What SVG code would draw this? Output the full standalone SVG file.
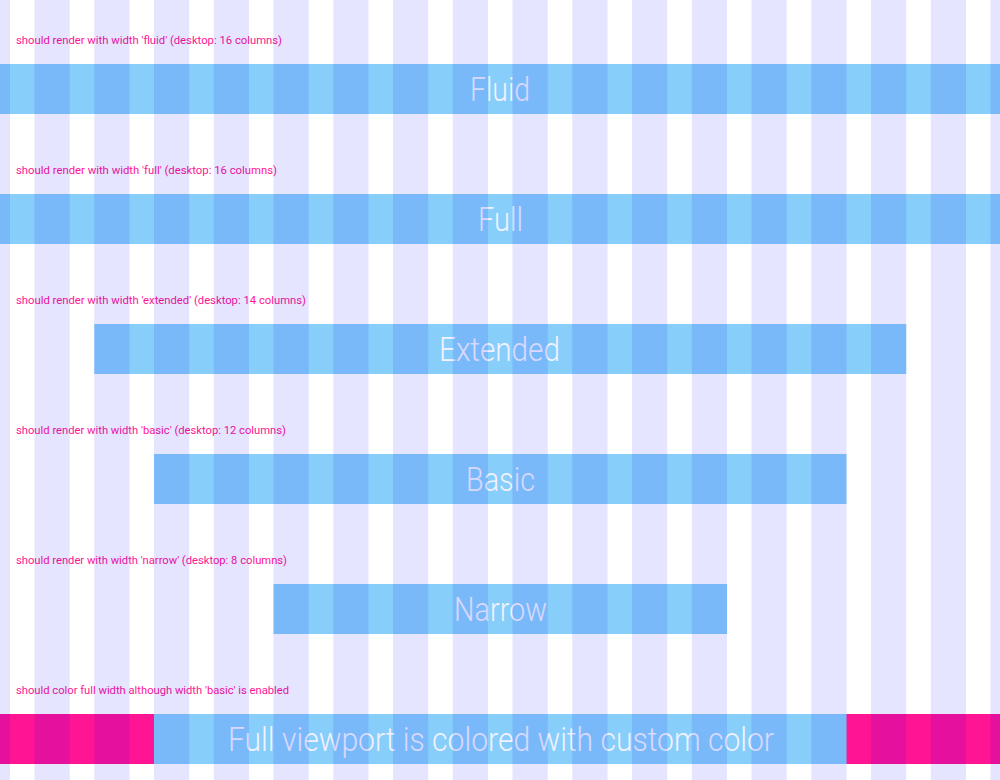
<svg xmlns="http://www.w3.org/2000/svg" width="1000" height="780" viewBox="0 0 1000 780">
<style>
.band{fill:#87CEFA}
.pink{fill:#FF1493}
.col{fill:#0000FF;fill-opacity:0.1}
.lbl{font-family:Roboto,"Liberation Sans",sans-serif;font-size:11px;fill:#FF1493}
.big{font-family:Roboto,"Liberation Sans",sans-serif;font-weight:300;font-size:34px;fill:#F2F2FF}
</style>
<rect width="1000" height="780" fill="#FFFFFF"/>
<g id="fluid">
<text class="lbl" x="16" y="44" textLength="266" lengthAdjust="spacingAndGlyphs">should render with width 'fluid' (desktop: 16 columns)</text>
<rect class="band" x="0" y="64" width="1000" height="50"/>
<text class="big" x="470" y="101" textLength="60" lengthAdjust="spacingAndGlyphs">Fluid</text>
</g>
<g id="full">
<text class="lbl" x="16" y="174" textLength="261" lengthAdjust="spacingAndGlyphs">should render with width 'full' (desktop: 16 columns)</text>
<rect class="band" x="0" y="194" width="1000" height="50"/>
<text class="big" x="478" y="231" textLength="45" lengthAdjust="spacingAndGlyphs">Full</text>
</g>
<g id="extended">
<text class="lbl" x="16" y="304" textLength="290" lengthAdjust="spacingAndGlyphs">should render with width 'extended' (desktop: 14 columns)</text>
<rect class="band" x="94.25" y="324" width="812" height="50"/>
<text class="big" x="439" y="361" textLength="121" lengthAdjust="spacingAndGlyphs">Extended</text>
</g>
<g id="basic">
<text class="lbl" x="16" y="434" textLength="270" lengthAdjust="spacingAndGlyphs">should render with width 'basic' (desktop: 12 columns)</text>
<rect class="band" x="154" y="454" width="692.5" height="50"/>
<text class="big" x="466" y="491" textLength="69" lengthAdjust="spacingAndGlyphs">Basic</text>
</g>
<g id="narrow">
<text class="lbl" x="16" y="564" textLength="271" lengthAdjust="spacingAndGlyphs">should render with width 'narrow' (desktop: 8 columns)</text>
<rect class="band" x="273.5" y="584" width="453.5" height="50"/>
<text class="big" x="454" y="621" textLength="93" lengthAdjust="spacingAndGlyphs">Narrow</text>
</g>
<g id="custom-color">
<text class="lbl" x="16" y="694" textLength="273" lengthAdjust="spacingAndGlyphs">should color full width although width 'basic' is enabled</text>
<rect class="pink" x="0" y="714" width="1000" height="50"/>
<rect class="band" x="154" y="714" width="692.5" height="50"/>
<text class="big" x="228" y="751" textLength="546" lengthAdjust="spacingAndGlyphs">Full viewport is colored with custom color</text>
</g>
<g id="grid-columns">
<rect class="col" x="0" y="0" width="10" height="780"/>
<rect class="col" x="34.5" y="0" width="35.25" height="780"/>
<rect class="col" x="94.25" y="0" width="35.25" height="780"/>
<rect class="col" x="154" y="0" width="35.25" height="780"/>
<rect class="col" x="213.75" y="0" width="35.25" height="780"/>
<rect class="col" x="273.5" y="0" width="35.25" height="780"/>
<rect class="col" x="333.25" y="0" width="35.25" height="780"/>
<rect class="col" x="393" y="0" width="35.25" height="780"/>
<rect class="col" x="452.75" y="0" width="35.25" height="780"/>
<rect class="col" x="512.5" y="0" width="35.25" height="780"/>
<rect class="col" x="572.25" y="0" width="35.25" height="780"/>
<rect class="col" x="632" y="0" width="35.25" height="780"/>
<rect class="col" x="691.75" y="0" width="35.25" height="780"/>
<rect class="col" x="751.5" y="0" width="35.25" height="780"/>
<rect class="col" x="811.25" y="0" width="35.25" height="780"/>
<rect class="col" x="871" y="0" width="35.25" height="780"/>
<rect class="col" x="930.75" y="0" width="35.25" height="780"/>
<rect class="col" x="990.5" y="0" width="9.5" height="780"/>
</g>
<g id="connectors"></g>
</svg>
